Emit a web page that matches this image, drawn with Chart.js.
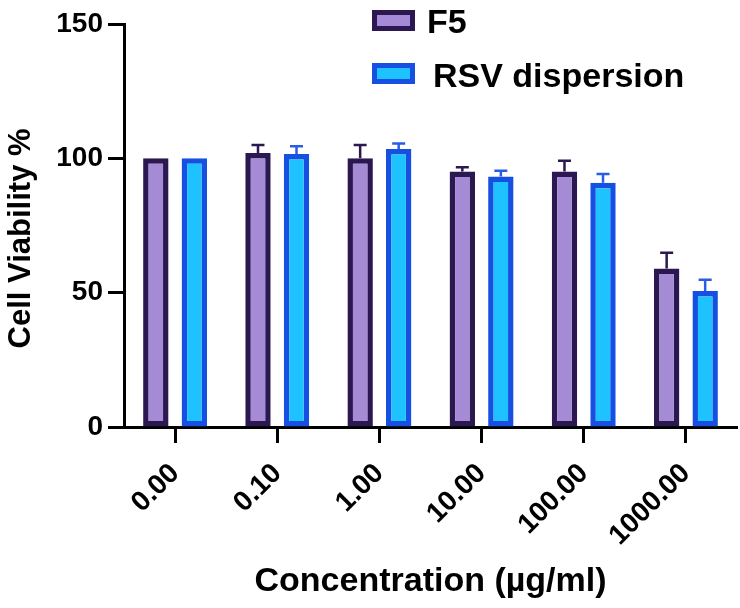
<!DOCTYPE html>
<html>
<head>
<meta charset="utf-8">
<script src="https://cdn.jsdelivr.net/npm/chart.js@4.4.1/dist/chart.umd.min.js"></script>
<style>
  html, body { margin: 0; padding: 0; background: #fff; }
  #wrap { position: relative; width: 740px; height: 608px; }
  #c { position: absolute; left: 0; top: 0; }
  .lg-box { position: absolute; width: 43px; height: 21px; box-sizing: border-box; border-style: solid; border-width: 5px; }
  .lg-txt { position: absolute; font-family: 'Liberation Sans', Arial, sans-serif; font-weight: bold; font-size: 34px; line-height: 34px; color: #000; white-space: nowrap; }
</style>
</head>
<body>
<div id="wrap">
  <canvas id="c" width="740" height="608"></canvas>
</div>
<script>
// ---- data ----
const categories = ['0.00', '0.10', '1.00', '10.00', '100.00', '1000.00'];
const seriesNames = ['F5', 'RSV dispersion'];
const f5Values = [100, 102, 100, 95.1, 95.1, 59];
const f5Errors = [0, 3, 5, 1.6, 4, 5.9];
const rsvValues = [100, 101.6, 103.5, 93.2, 90.9, 50.6];
const rsvErrors = [0, 2.9, 2, 2.2, 3.3, 4.2];
const yTicks = [0, 50, 100, 150];

const FONT = "'Liberation Sans', Arial, sans-serif";
const f5Fill = '#a58bd5', f5Border = '#2b1850';
const rsvFill = '#1ec2ff', rsvBorder = '#1650e2';

const errorBars = {
  id: 'errorBars',
  afterDatasetsDraw(chart) {
    const ctx = chart.ctx;
    const yScale = chart.scales.y;
    chart.data.datasets.forEach((ds, di) => {
      const meta = chart.getDatasetMeta(di);
      meta.data.forEach((bar, i) => {
        const err = ds.errors[i];
        if (!err) return;
        const yTop = yScale.getPixelForValue(ds.data[i] + err);
        ctx.save();
        ctx.strokeStyle = ds.errorColor;
        ctx.lineWidth = 2.5;
        ctx.beginPath();
        ctx.moveTo(bar.x, bar.y);
        ctx.lineTo(bar.x, yTop);
        ctx.moveTo(bar.x - 6.5, yTop);
        ctx.lineTo(bar.x + 6.5, yTop);
        ctx.stroke();
        ctx.restore();
      });
    });
  }
};

const chart = new Chart(document.getElementById('c'), {
  type: 'bar',
  data: {
    labels: categories,
    datasets: [
      { label: seriesNames[0], data: f5Values, errors: f5Errors, errorColor: f5Border,
        backgroundColor: f5Fill, borderColor: f5Border, borderWidth: 5.5, borderSkipped: false,
        categoryPercentage: 0.754, barPercentage: 0.66 },
      { label: seriesNames[1], data: rsvValues, errors: rsvErrors, errorColor: '#2a5de4',
        backgroundColor: rsvFill, borderColor: rsvBorder, borderWidth: 5.5, borderSkipped: false,
        categoryPercentage: 0.754, barPercentage: 0.66 }
    ]
  },
  options: {
    responsive: false,
    animation: false,
    devicePixelRatio: 1,
    layout: { padding: { top: 24, right: 3, left: 0, bottom: 0 } },
    plugins: { legend: { display: false }, tooltip: { enabled: false } },
    scales: {
      x: {
        offset: true,
        grid: { offset: false, drawOnChartArea: false, drawTicks: true, tickLength: 16, tickWidth: 3, tickColor: '#000' },
        border: { display: true, color: '#000', width: 3 },
        ticks: {
          autoSkip: false, minRotation: 45, maxRotation: 45, padding: 25, color: '#000',
          font: { family: FONT, weight: 'bold', size: 28, lineHeight: 0.1 }
        },
        title: {
          display: true, text: 'Concentration (µg/ml)', color: '#000',
          font: { family: FONT, weight: 'bold', size: 34 }, padding: { top: 4, bottom: 6 }
        },
        afterFit(s) { s.height = 181; }
      },
      y: {
        min: 0, max: 150,
        afterBuildTicks(s) { s.ticks = yTicks.map(v => ({ value: v })); },
        grid: { drawOnChartArea: false, drawTicks: true, tickLength: 16, tickWidth: 3, tickColor: '#000' },
        border: { display: true, color: '#000', width: 3 },
        ticks: { padding: 5, color: '#000', font: { family: FONT, weight: 'bold', size: 28 } },
        title: {
          display: true, text: 'Cell Viability %   ', color: '#000',
          font: { family: FONT, weight: 'bold', size: 31 }, padding: { top: 3, bottom: 0 }
        },
        afterFit(s) { s.width = 124; }
      }
    }
  },
  plugins: [errorBars]
});

// legend built from the datasets
const wrap = document.getElementById('wrap');
const legendPos = [{ box: [372, 10], txt: [427, 4] }, { box: [372, 63], txt: [433, 58] }];
chart.data.datasets.forEach((ds, i) => {
  const b = document.createElement('div');
  b.className = 'lg-box';
  b.style.left = legendPos[i].box[0] + 'px';
  b.style.top = legendPos[i].box[1] + 'px';
  b.style.background = ds.backgroundColor;
  b.style.borderColor = ds.borderColor;
  wrap.appendChild(b);
  const t = document.createElement('div');
  t.className = 'lg-txt';
  t.style.left = legendPos[i].txt[0] + 'px';
  t.style.top = legendPos[i].txt[1] + 'px';
  t.textContent = ds.label;
  wrap.appendChild(t);
});
</script>
</body>
</html>
